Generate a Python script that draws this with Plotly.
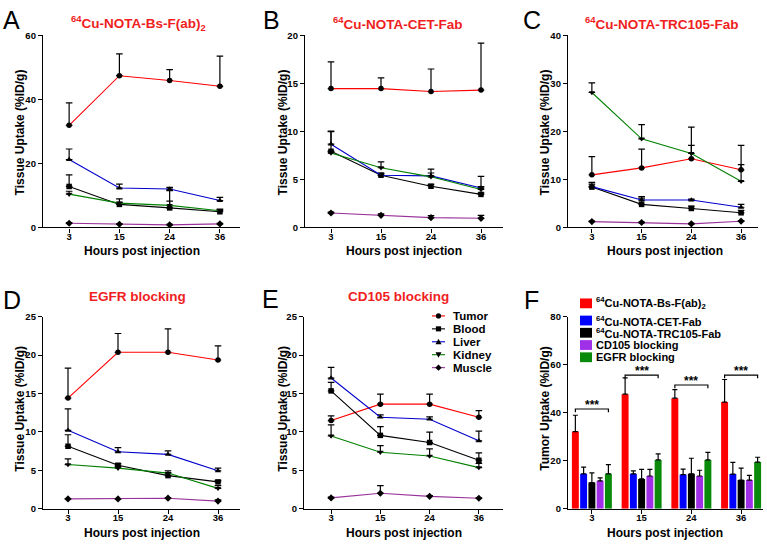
import plotly.graph_objects as go

W, H = 767, 545
FONT = "Liberation Sans"

# ---------------- data ----------------
hours = ["3", "15", "24", "36"]
organs = ["Tumor", "Blood", "Liver", "Kidney", "Muscle"]

# Panel A: 64Cu-NOTA-Bs-F(ab)2
a_tumor = [31.9, 47.4, 45.9, 44.1]
a_tumor_err = [7.0, 6.8, 3.4, 9.4]
a_blood = [12.8, 7.2, 6.1, 4.9]
a_blood_err = [3.6, 0.6, 2.1, 0.6]
a_liver = [21.2, 12.3, 12.0, 8.4]
a_liver_err = [3.3, 1.2, 0.5, 1.0]
a_kidney = [10.4, 7.6, 6.9, 5.2]
a_kidney_err = [0.9, 1.3, 4.6, 0.5]
a_muscle = [1.3, 1.0, 0.8, 1.1]
a_muscle_err = [0.2, 0.2, 0.2, 0.2]

# Panel B: 64Cu-NOTA-CET-Fab
b_tumor = [14.46, 14.46, 14.15, 14.3]
b_tumor_err = [2.78, 1.12, 2.35, 4.9]
b_blood = [7.93, 5.44, 4.29, 3.44]
b_blood_err = [2.1, 0.2, 0.2, 0.15]
b_liver = [8.67, 5.44, 5.37, 4.11]
b_liver_err = [1.3, 0.2, 0.3, 1.2]
b_kidney = [7.76, 6.22, 5.27, 3.95]
b_kidney_err = [0.2, 0.6, 0.8, 0.3]
b_muscle = [1.5, 1.26, 1.02, 0.95]
b_muscle_err = [0.1, 0.15, 0.2, 0.3]

# Panel C: 64Cu-NOTA-TRC105-Fab
c_tumor = [10.95, 12.4, 14.3, 12.0]
c_tumor_err = [3.8, 3.9, 6.6, 5.1]
c_blood = [8.4, 4.8, 3.95, 3.05]
c_blood_err = [1.0, 1.3, 0.5, 0.5]
c_liver = [8.5, 5.7, 5.7, 4.2]
c_liver_err = [0.5, 0.7, 0.2, 0.6]
c_kidney = [28.1, 18.45, 15.4, 9.6]
c_kidney_err = [2.0, 2.95, 1.7, 3.5]
c_muscle = [1.22, 1.02, 0.75, 1.3]
c_muscle_err = [0.1, 0.1, 0.1, 0.1]

# Panel D: EGFR blocking
d_tumor = [14.4, 20.35, 20.35, 19.35]
d_tumor_err = [3.9, 2.45, 3.05, 1.85]
d_blood = [8.12, 5.65, 4.3, 3.48]
d_blood_err = [1.5, 0.2, 0.4, 0.2]
d_liver = [10.2, 7.4, 7.06, 4.93]
d_liver_err = [2.8, 0.55, 0.45, 0.35]
d_kidney = [5.74, 5.27, 4.63, 2.64]
d_kidney_err = [0.75, 0.2, 0.3, 0.35]
d_muscle = [1.27, 1.27, 1.36, 0.98]
d_muscle_err = [0.05, 0.05, 0.05, 0.15]

# Panel E: CD105 blocking
e_tumor = [11.47, 13.6, 13.6, 11.9]
e_tumor_err = [0.6, 1.3, 1.3, 0.85]
e_blood = [15.33, 9.54, 8.61, 6.3]
e_blood_err = [1.1, 1.15, 1.35, 0.97]
e_liver = [17.0, 11.9, 11.64, 8.83]
e_liver_err = [1.4, 0.3, 0.3, 1.25]
e_kidney = [9.46, 7.35, 6.85, 5.34]
e_kidney_err = [1.45, 0.85, 0.92, 0.55]
e_muscle = [1.4, 2.0, 1.6, 1.35]
e_muscle_err = [0.1, 1.0, 0.1, 0.05]

# Panel F: tumor uptake bars
groups = ["<sup>64</sup>Cu-NOTA-Bs-F(ab)<sub>2</sub>", "<sup>64</sup>Cu-NOTA-CET-Fab",
          "<sup>64</sup>Cu-NOTA-TRC105-Fab", "CD105 blocking", "EGFR blocking"]
f_bs = [32.1, 47.7, 46.0, 44.4]
f_bs_err = [6.8, 6.8, 3.6, 9.4]
f_cet = [14.5, 14.5, 14.2, 14.4]
f_cet_err = [2.8, 1.2, 2.3, 4.9]
f_trc = [10.9, 12.4, 14.5, 11.9]
f_trc_err = [4.0, 4.0, 6.5, 5.0]
f_cd105 = [11.6, 13.6, 13.6, 11.9]
f_cd105_err = [1.2, 2.8, 2.4, 2.0]
f_egfr = [14.5, 20.3, 20.3, 19.4]
f_egfr_err = [3.8, 2.5, 3.1, 2.0]
sig_level = [41.5, 55.6, 51.5, 55.6]
sig_text = ["***", "***", "***", "***"]

panel_titles = ["<sup>64</sup>Cu-NOTA-Bs-F(ab)<sub>2</sub>", "<sup>64</sup>Cu-NOTA-CET-Fab",
                "<sup>64</sup>Cu-NOTA-TRC105-Fab", "EGFR blocking", "CD105 blocking"]
panel_letters = ["A", "B", "C", "D", "E", "F"]

# ---------------- styles / geometry ----------------
organ_colors = ["#FF0000", "#000000", "#0000CC", "#008000", "#993399"]
organ_symbols = ["circle", "square", "triangle-up", "triangle-down", "diamond"]
bar_colors = ["#FF0000", "#0000FF", "#000000", "#A030E8", "#0A8A0A"]

# (x0, x1, ytop, ybottom) in px, x range, y max, y step
geom = [
    (43, 240, 30, 226, [-0.52, 3.40], 60, 20),
    (305, 503, 30, 226, [-0.52, 3.44], 20, 5),
    (568, 758, 30, 226, [-0.48, 3.34], 40, 10),
    (43, 240, 317, 513, [-0.50, 3.44], 25, 5),
    (304, 503, 317, 513, [-0.55, 3.49], 25, 5),
    (568, 763, 317, 513, [-0.48, 3.44], 80, 20),
]


def px(x):
    return x / W


def py(y):
    return 1 - y / H


line_panels = [
    [(a_tumor, a_tumor_err), (a_blood, a_blood_err), (a_liver, a_liver_err), (a_kidney, a_kidney_err), (a_muscle, a_muscle_err)],
    [(b_tumor, b_tumor_err), (b_blood, b_blood_err), (b_liver, b_liver_err), (b_kidney, b_kidney_err), (b_muscle, b_muscle_err)],
    [(c_tumor, c_tumor_err), (c_blood, c_blood_err), (c_liver, c_liver_err), (c_kidney, c_kidney_err), (c_muscle, c_muscle_err)],
    [(d_tumor, d_tumor_err), (d_blood, d_blood_err), (d_liver, d_liver_err), (d_kidney, d_kidney_err), (d_muscle, d_muscle_err)],
    [(e_tumor, e_tumor_err), (e_blood, e_blood_err), (e_liver, e_liver_err), (e_kidney, e_kidney_err), (e_muscle, e_muscle_err)],
]

xidx = list(range(len(hours)))
fig = go.Figure()

for p, series in enumerate(line_panels):
    xa = "x" if p == 0 else f"x{p+1}"
    ya = "y" if p == 0 else f"y{p+1}"
    for k, (vals, errs) in enumerate(series):
        fig.add_trace(go.Scatter(
            x=xidx, y=vals, xaxis=xa, yaxis=ya, mode="lines+markers", name=organs[k],
            line=dict(color=organ_colors[k], width=1.1),
            marker=dict(symbol=organ_symbols[k], size=5.5, color="black", line=dict(width=0)),
            error_y=dict(type="data", array=errs, arrayminus=[0] * len(errs), symmetric=False,
                         color="black", thickness=1.2, width=3.3),
            showlegend=False, cliponaxis=False,
        ))

bar_series = [(f_bs, f_bs_err), (f_cet, f_cet_err), (f_trc, f_trc_err), (f_cd105, f_cd105_err), (f_egfr, f_egfr_err)]
for k, (vals, errs) in enumerate(bar_series):
    fig.add_trace(go.Bar(
        x=xidx, y=vals, xaxis="x6", yaxis="y6", name=groups[k],
        marker=dict(color=bar_colors[k], line=dict(width=0)),
        error_y=dict(type="data", array=errs, arrayminus=[0] * len(errs), symmetric=False,
                     color="black", thickness=1.2, width=2.5),
        showlegend=False,
    ))

layout = dict(
    width=W, height=H, margin=dict(l=0, r=0, t=0, b=0),
    paper_bgcolor="white", plot_bgcolor="white", showlegend=False,
    barmode="group", bargap=0.17, bargroupgap=0.16,
)

tickfont = dict(family=FONT, size=9.5, color="black", weight="bold")
for p, (x0, x1, yt, yb, xr, ymax, ystep) in enumerate(geom):
    xn = "xaxis" if p == 0 else f"xaxis{p+1}"
    yn = "yaxis" if p == 0 else f"yaxis{p+1}"
    xa = "x" if p == 0 else f"x{p+1}"
    ya = "y" if p == 0 else f"y{p+1}"
    layout[xn] = dict(domain=[px(x0), px(x1)], range=xr, anchor=ya, tickvals=xidx, ticktext=hours,
                      showline=True, linecolor="black", linewidth=1.3, ticks="outside", ticklen=4,
                      tickwidth=1.2, tickcolor="black", tickfont=tickfont, showgrid=False,
                      zeroline=False, fixedrange=True, ticklabelstandoff=-4)
    layout[yn] = dict(domain=[py(yb), py(yt)], range=[0, ymax], anchor=xa, dtick=ystep, tick0=0,
                      showline=True, linecolor="black", linewidth=1.3, ticks="outside", ticklen=4,
                      tickwidth=1.2, tickcolor="black", tickfont=tickfont, showgrid=False,
                      zeroline=False, fixedrange=True)

fig.update_layout(**layout)


def ann(text, x, y, size, color="black", bold=True, angle=0, xanchor="center", yanchor="middle"):
    return dict(text=text, x=px(x), y=py(y), xref="paper", yref="paper", showarrow=False,
                font=dict(family=FONT, size=size, color=color, weight="bold" if bold else "normal"),
                textangle=angle, xanchor=xanchor, yanchor=yanchor)


annotations = []
shapes = []

letter_pos = [(11, 14), (271, 14), (532, 14), (12, 300), (270, 299), (531, 300)]
for i, L in enumerate(panel_letters):
    annotations.append(ann(L, letter_pos[i][0], letter_pos[i][1], 25, bold=False))

title_pos = [(138, 17), (397, 17), (662, 17), (137, 296), (398, 296)]
for i, (tx, ty) in enumerate(title_pos):
    annotations.append(ann(panel_titles[i], tx, ty, 13.5, color="#F01E1E"))

ytitle_pos = [(20, 129), (283, 129), (545, 129), (20, 411), (283, 411), (545, 411)]
for i, (tx, ty) in enumerate(ytitle_pos):
    txt = "Tumor Uptake (%ID/g)" if i == 5 else "Tissue Uptake (%ID/g)"
    annotations.append(ann(txt, tx, ty, 12, angle=-90))

xtitle_pos = [(142, 250), (404, 250), (665, 250), (142, 537.5), (404, 537.5), (665, 537.5)]
for tx, ty in xtitle_pos:
    annotations.append(ann("Hours post injection", tx, ty, 12))

# significance brackets in panel F (data coords)
slot = (1 - 0.17) / len(bar_series)
for i, lvl in enumerate(sig_level):
    xl = xidx[i] - 2 * slot
    xr_ = xidx[i] + 2 * slot
    drop = 1.3
    shapes.append(dict(type="path", xref="x6", yref="y6",
                       path=f"M{xl},{lvl - drop} L{xl},{lvl} L{xr_},{lvl} L{xr_},{lvl - drop}",
                       line=dict(color="black", width=1.2)))
    annotations.append(dict(text=sig_text[i], x=xidx[i], y=lvl, xref="x6", yref="y6", showarrow=False,
                            font=dict(family=FONT, size=12, color="black", weight="bold"),
                            xanchor="center", yanchor="bottom", yshift=-5))

# legend for panel E (line + marker keys)
leg_e_y = [316.3, 329.5, 342.7, 355.9, 369.1]
lx0, lx1, lmx, ltx = 432, 445, 438.5, 451
for k, o in enumerate(organs):
    cy = leg_e_y[k]
    shapes.append(dict(type="line", xref="paper", yref="paper", x0=px(lx0), x1=px(lx1),
                       y0=py(cy), y1=py(cy), line=dict(color=organ_colors[k], width=1.1)))
    s = 2.6
    sym = organ_symbols[k]
    if sym == "circle":
        shapes.append(dict(type="circle", xref="paper", yref="paper", x0=px(lmx - s), x1=px(lmx + s),
                           y0=py(cy + s), y1=py(cy - s), fillcolor="black", line=dict(width=0)))
    elif sym == "square":
        shapes.append(dict(type="rect", xref="paper", yref="paper", x0=px(lmx - s), x1=px(lmx + s),
                           y0=py(cy + s), y1=py(cy - s), fillcolor="black", line=dict(width=0)))
    else:
        if sym == "triangle-up":
            pts = [(lmx - 3, cy + 2.5), (lmx + 3, cy + 2.5), (lmx, cy - 3)]
        elif sym == "triangle-down":
            pts = [(lmx - 3, cy - 2.5), (lmx + 3, cy - 2.5), (lmx, cy + 3)]
        else:
            pts = [(lmx, cy - 3.2), (lmx + 3.2, cy), (lmx, cy + 3.2), (lmx - 3.2, cy)]
        path = "M" + " L".join(f"{px(a)},{py(b)}" for a, b in pts) + " Z"
        shapes.append(dict(type="path", xref="paper", yref="paper", path=path,
                           fillcolor="black", line=dict(width=0)))
    annotations.append(ann(o, ltx, cy, 11.5, xanchor="left"))

# legend for panel F (colour squares)
leg_f_y = [303.5, 321, 333.5, 346, 358.5]
for k, g in enumerate(groups):
    cy = leg_f_y[k]
    shapes.append(dict(type="rect", xref="paper", yref="paper", x0=px(580), x1=px(592),
                       y0=py(cy + 5), y1=py(cy - 5), fillcolor=bar_colors[k], line=dict(width=0)))
    annotations.append(ann(g, 594, cy, 11, xanchor="left"))

fig.update_layout(annotations=annotations, shapes=shapes)
fig.write_html("out.html", config={"displayModeBar": False},
               post_script="document.body.style.margin='0px';document.body.style.overflow='hidden';")
